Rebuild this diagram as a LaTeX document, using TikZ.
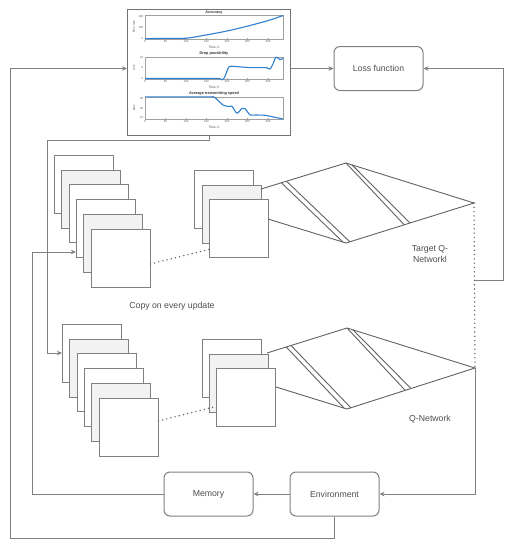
\documentclass[tikz,border=0pt]{standalone}
\usepackage{fontspec}
\setmainfont{Liberation Sans}
\usetikzlibrary{arrows.meta,calc}
\definecolor{lc}{HTML}{808080}
\definecolor{tc}{HTML}{4D4D4D}
\definecolor{sqfill}{HTML}{F2F2F2}
\definecolor{pb}{HTML}{2F80D0}
\definecolor{ax}{HTML}{A0A0A0}
\begin{document}
\begin{tikzpicture}[x=1pt,y=-1pt,
  box/.style={draw=lc,line width=1pt,rounded corners=6pt,minimum width=89pt,minimum height=44pt,inner sep=0,text=tc,font=\fontsize{8.7}{10}\selectfont},
  sq/.style={draw=lc,line width=0.9pt,fill=white,minimum width=59pt,minimum height=58pt,inner sep=0,anchor=north west},
  sqg/.style={sq,fill=sqfill},
  arr/.style={draw=lc,line width=1pt,-{Stealth[length=5pt,width=4.5pt]}},
  con/.style={draw=lc,line width=1pt},
  dotl/.style={draw=black!60,line width=1.6pt,line cap=round,dash pattern=on 0pt off 4.3pt},
  net/.style={draw=black!62,line width=0.9pt},
  lbl/.style={text=tc,font=\fontsize{8.7}{10.5}\selectfont,inner sep=0},
  axf/.style={draw=ax,line width=0.35pt},
  tk/.style={font=\fontsize{2.8}{3}\selectfont,text=black!70,inner sep=0},
  ttl/.style={font=\bfseries\fontsize{3.8}{4}\selectfont,text=black!80,inner sep=0},
  crv/.style={draw=pb,line width=1.1pt,line join=round}]
\useasboundingbox (0,0) rectangle (520,550);

% ---------- chart box ----------
\node[draw=black!55,line width=1.3pt,fill=white,minimum width=163pt,minimum height=126pt,inner sep=0,anchor=north west] (chart) at (127,9) {};

% plot helpers: X(h)=145+0.41h
\foreach \ytop/\ybot in {15/39,57/79,97/119}{
  \draw[axf] (145,\ytop) rectangle (283,\ybot);
  \foreach \h in {0,50,...,300}{
    \draw[axf] ({145+0.41*\h},\ybot) -- ({145+0.41*\h},\ybot-1.2);
    \node[tk] at ({145+0.41*\h},\ybot+3) {\h};
  }
  \node[tk,font=\fontsize{3.3}{3.5}\selectfont] at (214,\ybot+8.5) {Time, h};
}
% titles
\node[ttl] at (214,12.5) {Accuracy};
\node[ttl] at (214,53.5) {Drop possibility};
\node[ttl] at (214,93.8) {Average transmitting speed};
% y labels
\node[tk,rotate=90] at (134,27) {Error rate};
\node[tk,rotate=90] at (134,68) {Loss};
\node[tk,rotate=90] at (134,108) {kB/s};
% y ticks
\foreach \v/\t in {0/0,100/100,200/200}{ \node[tk,anchor=east] at (143.5,{39-0.11*\v}) {\t}; }
\foreach \v in {0,5,10}{ \node[tk,anchor=east] at (143.5,{78.5-2.1*\v}) {\v}; }
\foreach \v in {10,20,30}{ \node[tk,anchor=east] at (143.5,{127.05-0.935*\v}) {\v}; }
% curves
\draw[crv] plot[smooth,tension=0.5] coordinates {
 (145,38.6) (165.5,38.4) (186,38.2) (206,35) (228,30.8) (248,26) (268,20.6) (283,15.6)};
\draw[crv] plot[smooth,tension=0.4] coordinates {
 (145,78.5) (200,78.5) (219,78.5) (222,79.8) (224.5,77.5) (229,66.8) (235,66.5) (250,67.6) (265,67.6) (267,67.8) (270,69.2) (273,64) (276,57) (280,59.6) (283,58.3)};
\draw[crv] plot[smooth,tension=0.45] coordinates {
 (145,96.9) (208,96.9) (213,96.5) (216,98.5) (223,105) (229,106.5) (232,106.3) (237,113.2) (242,108.3) (245,108.6) (250,114.8) (256,115) (265,115.3) (275,117.3) (283,119)};

% ---------- rounded boxes ----------
\node[box] (loss) at (378.5,68.5) {Loss function};
\node[box] (mem) at (208.5,494) {Memory};
\node[box] (env) at (334.5,494) {Environment};

% ---------- big stacks ----------
\node[sq]  (t1) at (54,155) {};
\node[sqg] (t2) at (61.3,169.7) {};
\node[sq]  (t3) at (68.6,184.4) {};
\node[sq]  (t4) at (75.9,199.1) {};
\node[sqg] (t5) at (83.2,213.8) {};
\node[sq]  (t6) at (90.5,228.5) {};

\node[sq]  (b1) at (62,324) {};
\node[sqg] (b2) at (69.3,338.7) {};
\node[sq]  (b3) at (76.6,353.4) {};
\node[sq]  (b4) at (83.9,368.1) {};
\node[sqg] (b5) at (91.2,382.8) {};
\node[sq]  (b6) at (98.5,397.5) {};

% ---------- small stacks ----------
\node[sq]  (s1) at (194,170) {};
\node[sqg] (s2) at (201.5,184.5) {};
\node[sq]  (s3) at (209,199) {};

\node[sq]  (q1) at (202,339) {};
\node[sqg] (q2) at (209,353.5) {};
\node[sq]  (q3) at (216,368) {};

% ---------- networks ----------
\coordinate (tL1) at (261,189);
\coordinate (tT) at (346,163);
\coordinate (tR) at (474,203);
\coordinate (tB) at (346,243);
\coordinate (tL2) at (268,219);
\coordinate (qL1) at (267,353);
\coordinate (qT) at (347,328);
\coordinate (qR) at (475,368);
\coordinate (qB) at (347,409);
\coordinate (qL2) at (276,387);
\foreach \p in {t,q}{
  \draw[net,line join=miter] (\p L1) -- (\p T) -- (\p R) -- (\p B) -- (\p L2);
  \draw[net] ($(\p L1)!0.24!(\p T)$) -- ($(\p L2)!0.96!(\p B)$);
  \draw[net] ($(\p L1)!0.30!(\p T)$) -- ($(\p B)!0.03!(\p R)$);
  \draw[net] (\p T) -- ($(\p B)!0.455!(\p R)$);
  \draw[net] ($(\p T)!0.047!(\p R)$) -- ($(\p B)!0.5!(\p R)$);
}

% ---------- labels ----------
\node[lbl] (lcopy) at (172,306) {Copy on every update};
\node[lbl,align=center] (ltq) at (430,254) {Target Q-\\Networkl};
\node[lbl] (lq) at (430,419) {Q-Network};

% ---------- connectors ----------
\coordinate (tq) at (475,280);
\coordinate (m1) at (32,252);
\coordinate (c1) at (47,353);
\draw[arr] (chart.east |- loss.west) -- (loss.west);
\draw[arr] (env.south) |- (10,538) |- (chart.west |- loss.west);
\draw[arr] (tq) -- (503,280) |- (loss.east);
\draw[dotl] (tR) -- (qR);
\draw[arr] (qR) |- (env.east);
\draw[arr] (env.west) -- (mem.east);
\draw[arr] (mem.west) -| (m1) -- (t4.west |- m1);
\draw[arr] (chart.south) |- (47,140) -- (c1) -- (b1.west |- c1);
\draw[dotl] ($(t6.east)+(0,6)$) -- ($(s3.west)+(0,21)$);
\draw[dotl] ($(b6.east)+(0,-6)$) -- ($(q3.west)+(0,9)$);
\end{tikzpicture}
\end{document}
